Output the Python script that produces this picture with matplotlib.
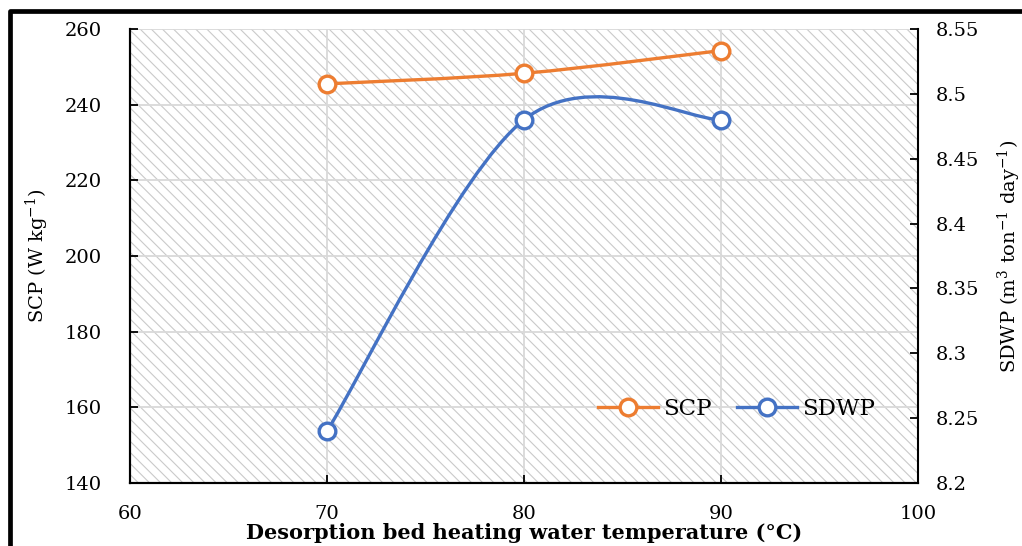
import numpy as np
import matplotlib as mpl
mpl.use("Agg")
import matplotlib.pyplot as plt
from matplotlib.path import Path
from matplotlib.patches import PathPatch, Rectangle
from matplotlib.lines import Line2D

temps = [70, 80, 90]
scp = [245.5, 248.3, 254.3]
sdwp = [8.24, 8.48, 8.48]

x_ticks = [60, 70, 80, 90, 100]
scp_ticks = [140, 160, 180, 200, 220, 240, 260]
sdwp_ticks = [8.2, 8.25, 8.3, 8.35, 8.4, 8.45, 8.5, 8.55]

orange = "#ED7D31"
blue = "#4472C4"

plt.rcParams["font.family"] = ["DejaVu Serif"]
plt.rcParams["mathtext.fontset"] = "dejavuserif"
plt.rcParams["hatch.linewidth"] = 0.8


def excel_smooth(ax, xs, ys):
    # Excel style smoothed line: Catmull-Rom control points in pixel space
    pts = ax.transData.transform(np.column_stack([xs, ys]))
    n = len(pts)
    verts = [pts[0]]
    codes = [Path.MOVETO]
    for i in range(n - 1):
        p_prev = pts[i - 1] if i > 0 else pts[i]
        p_next = pts[i + 2] if i + 2 < n else pts[i + 1]
        c1 = pts[i] + (pts[i + 1] - p_prev) / 6
        c2 = pts[i + 1] - (p_next - pts[i]) / 6
        verts += [c1, c2, pts[i + 1]]
        codes += [Path.CURVE4] * 3
    verts = ax.transData.inverted().transform(np.array(verts))
    return Path(verts, codes)


W, H = 1022, 546
fig = plt.figure(figsize=(W / 100, H / 100), dpi=100)
ax = fig.add_axes([130 / W, (H - 483) / H, (918 - 130) / W, (483 - 29) / H])
ax2 = ax.twinx()

ax.set_xlim(60, 100)
ax.set_ylim(140, 260)
ax2.set_ylim(8.2, 8.55)

# hatched plot area
ax.add_patch(Rectangle((0, 0), 1, 1, transform=ax.transAxes, facecolor="white",
                       edgecolor="#cacaca", hatch="\\\\\\", lw=0, zorder=0))
ax.grid(True, color="#d9d9d9", lw=1.3, zorder=1)
ax.set_axisbelow(True)

lw = 2.4
ms = 12
ax.add_patch(PathPatch(excel_smooth(ax, temps, scp), fill=False, edgecolor=orange, lw=lw, zorder=3))
ax.plot(temps, scp, ls="none", marker="o", ms=ms, mfc="white", mec=orange, mew=2.4, zorder=4)
ax2.add_patch(PathPatch(excel_smooth(ax2, temps, sdwp), fill=False, edgecolor=blue, lw=lw, zorder=3))
ax2.plot(temps, sdwp, ls="none", marker="o", ms=ms, mfc="white", mec=blue, mew=2.4, zorder=4)

fs = 14
ax.set_xticks(x_ticks)
ax.set_yticks(scp_ticks)
ax2.set_yticks(sdwp_ticks)
ax2.set_yticklabels(["%g" % v for v in sdwp_ticks])
ax.tick_params(axis="x", direction="in", length=6, width=1.3, pad=16, labelsize=fs)
ax.tick_params(axis="y", direction="in", length=6, width=1.3, pad=20, labelsize=fs)
ax2.tick_params(axis="y", direction="in", length=6, width=1.3, pad=13, labelsize=fs)

for a in (ax, ax2):
    a.spines["top"].set_visible(False)
    for s in ("left", "bottom", "right"):
        a.spines[s].set_linewidth(1.5)
ax.spines["right"].set_visible(False)

ax.set_xlabel("Desorption bed heating water temperature (°C)", fontsize=15,
              fontweight="bold", labelpad=0)
ax.set_ylabel("SCP (W kg$^{-1}$)", fontsize=14, labelpad=10)
ax2.set_ylabel("SDWP (m$^{3}$ ton$^{-1}$ day$^{-1}$)", fontsize=14, labelpad=12)

handles = [
    Line2D([], [], color=orange, lw=lw, marker="o", ms=ms, mfc="white", mec=orange, mew=2.4),
    Line2D([], [], color=blue, lw=lw, marker="o", ms=ms, mfc="white", mec=blue, mew=2.4),
]
ax2.legend(handles, ["SCP", "SDWP"], loc="center", bbox_to_anchor=(0.77, 0.163), ncol=2,
           frameon=False, fontsize=16.5, handlelength=2.6, columnspacing=1.1, handletextpad=0.25)

# outer black frame
fig.add_artist(Line2D([9.5 / W, 9.5 / W, 1.0], [0, 1 - 11 / H, 1 - 11 / H],
                      transform=fig.transFigure, color="black", lw=3.4))

fig.savefig("out.png", dpi=100)
